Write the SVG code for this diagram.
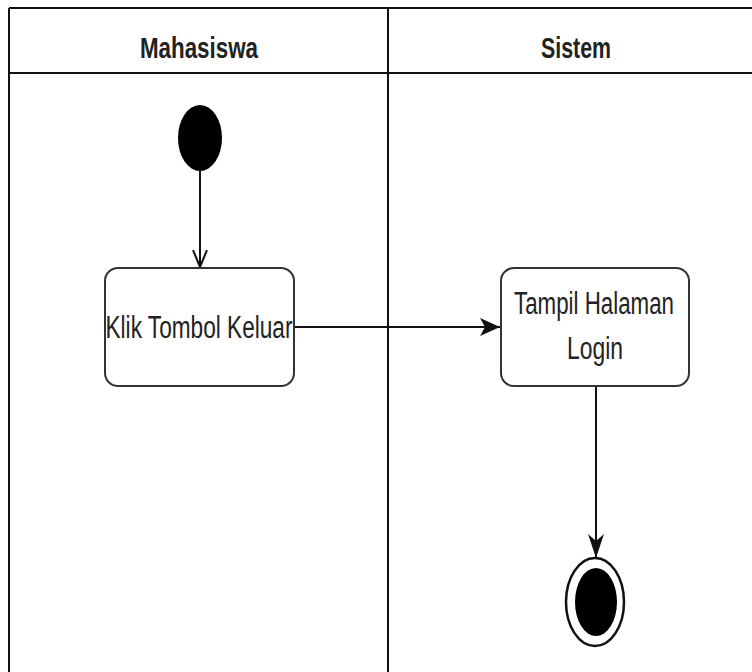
<svg xmlns="http://www.w3.org/2000/svg" width="752" height="672" viewBox="0 0 752 672">
<defs>
<style>
.lane{fill:none;stroke:#111;stroke-width:2}
.hdr{font-family:"Liberation Sans",Arial,sans-serif;font-size:30px;font-weight:bold;fill:#222;text-anchor:middle}
.lbl{font-family:"Liberation Sans",Arial,sans-serif;font-size:31px;fill:#222;text-anchor:middle}
.box{fill:#fff;stroke:#333;stroke-width:2}
.edge{fill:none;stroke:#111;stroke-width:2}
</style>
<marker id="open" markerWidth="20" markerHeight="20" refX="17" refY="10" orient="auto" markerUnits="userSpaceOnUse" viewBox="0 0 20 20">
<path d="M0,3 L17,10 L0,17" fill="none" stroke="#111" stroke-width="2"/>
</marker>
<marker id="fill" markerWidth="24" markerHeight="20" refX="20" refY="10" orient="auto" markerUnits="userSpaceOnUse" viewBox="0 0 24 20">
<path d="M0,1 L20,10 L0,19 L5,10 Z" fill="#111"/>
</marker>
<marker id="filln" markerWidth="26" markerHeight="20" refX="24" refY="10" orient="auto" markerUnits="userSpaceOnUse" viewBox="0 0 26 20">
<path d="M0,2 L24,10 L0,18 L7,10 Z" fill="#111"/>
</marker>
</defs>
<rect width="752" height="672" fill="#fff"/>
<g id="lanes">
<path class="lane" d="M9,8 H752 M9,73 H752 M9,8 V672 M388,8 V672"/>
<text class="hdr" x="199" y="58" textLength="118" lengthAdjust="spacingAndGlyphs">Mahasiswa</text>
<text class="hdr" x="576" y="58" textLength="70" lengthAdjust="spacingAndGlyphs">Sistem</text>
</g>
<g id="edges">
<line class="edge" x1="200" y1="170" x2="200" y2="267" marker-end="url(#open)"/>
<line class="edge" x1="294" y1="327" x2="500" y2="327" stroke-width="2.5" marker-end="url(#fill)"/>
<line class="edge" x1="596" y1="386" x2="596" y2="558" marker-end="url(#filln)"/>
</g>
<g id="start">
<ellipse cx="200" cy="138" rx="22" ry="33" fill="#000"/>
</g>
<g id="klik">
<rect class="box" x="105" y="268" width="189" height="118" rx="13"/>
<text class="lbl" x="199" y="338" textLength="187" lengthAdjust="spacingAndGlyphs">Klik Tombol Keluar</text>
</g>
<g id="tampil">
<rect class="box" x="501" y="268" width="188" height="118" rx="13"/>
<text class="lbl" x="594" y="314" textLength="160" lengthAdjust="spacingAndGlyphs">Tampil Halaman</text>
<text class="lbl" x="595" y="359" textLength="56" lengthAdjust="spacingAndGlyphs">Login</text>
</g>
<g id="end">
<ellipse cx="595" cy="602" rx="29" ry="44" fill="#fff" stroke="#111" stroke-width="2.5"/>
<ellipse cx="596" cy="602" rx="21" ry="34" fill="#000"/>
</g>
</svg>
